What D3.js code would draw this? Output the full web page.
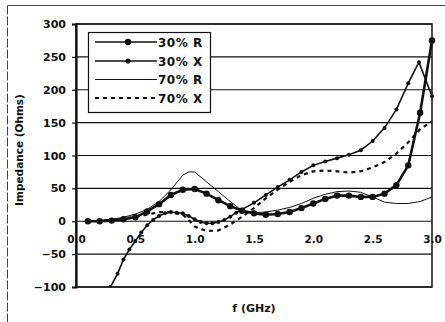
<!DOCTYPE html>
<html>
<head>
<meta charset="utf-8">
<script src="https://cdn.jsdelivr.net/npm/d3@7"></script>
<style>
  html, body { margin: 0; padding: 0; background: #fff; }
  svg { display: block; }
  text { font-family: "DejaVu Sans", sans-serif; font-weight: bold; fill: #111; }
</style>
</head>
<body>
<svg id="chart" width="445" height="322"></svg>
<script>
// Impedance vs frequency for 30% and 70% fill ratios
const freq30R = [0.1,0.2,0.3,0.4,0.5,0.6,0.7,0.8,0.9,1.0,1.1,1.2,1.3,1.4,1.5,1.6,1.7,1.8,1.9,2.0,2.1,2.2,2.3,2.4,2.5,2.6,2.7,2.8,2.9,3.0];
const res30  = [0,0,1,3,6,15,26,40,48,49,42,32,23,16,12,10,11,14,20,27,34,39,39,37,37,42,55,85,165,275];

const freq30X = [0.29,0.35,0.4,0.45,0.5,0.55,0.6,0.65,0.7,0.75,0.8,0.85,0.9,0.95,1.0,1.05,1.1,1.15,1.2,1.25,1.3,1.35,1.4,1.5,1.6,1.7,1.8,1.9,2.0,2.1,2.2,2.3,2.4,2.5,2.6,2.7,2.8,2.89,3.0];
const reac30 = [-100,-80,-58,-43,-30,-17,-6,2,8,12,14,13,12,8,3,-1,-3,-3,-1,2,7,13,18,28,40,52,63,75,85,91,96,101,108,122,142,170,210,242,190];

const freq70R = [0.1,0.2,0.3,0.4,0.5,0.6,0.7,0.8,0.9,0.95,1.0,1.1,1.2,1.3,1.4,1.5,1.6,1.7,1.8,1.9,2.0,2.1,2.2,2.3,2.4,2.5,2.6,2.7,2.8,2.9,3.0];
const res70  = [0,1,3,6,11,18,30,48,70,75,75,60,45,30,16,13,14,17,21,27,35,41,45,46,44,37,29,27,27,30,37];

const freq70X = [0.1,0.2,0.3,0.4,0.5,0.6,0.7,0.8,0.9,0.95,1.0,1.1,1.2,1.3,1.4,1.5,1.6,1.7,1.8,1.9,2.0,2.1,2.2,2.3,2.4,2.5,2.6,2.7,2.8,2.9,3.0];
const reac70 = [0,1,2,4,7,10,14,14,10,2,-8,-15,-14,-5,7,20,35,48,60,70,76,77,76,74,76,82,90,103,120,140,152];

const yTicks = [300,250,200,150,100,50,0,-50,-100];
const xTicks = [0.0,0.5,1.0,1.5,2.0,2.5,3.0];
const seriesNames = ["30% R","30% X","70% R","70% X"];

const svg = d3.select("#chart");
const x = d3.scaleLinear().domain([0, 3]).range([76, 432]);
const y = d3.scaleLinear().domain([-100, 300]).range([287, 24]);

// outer frame (top and left edges)
svg.append("line").attr("x1", 7.5).attr("x2", 445).attr("y1", 5.5).attr("y2", 5.5)
  .attr("stroke", "#444").attr("stroke-width", 1);
svg.append("line").attr("x1", 7.5).attr("x2", 7.5).attr("y1", 5.5).attr("y2", 322)
  .attr("stroke", "#444").attr("stroke-width", 1).attr("stroke-dasharray", "9,2");

// horizontal gridlines
svg.append("g").selectAll("line").data(yTicks).join("line")
  .attr("x1", x(0)).attr("x2", x(3))
  .attr("y1", d => y(d)).attr("y2", d => y(d))
  .attr("stroke", "#111").attr("stroke-width", 1.2);

// plot border
svg.append("rect").attr("x", x(0)).attr("y", y(300))
  .attr("width", x(3) - x(0)).attr("height", y(-100) - y(300))
  .attr("fill", "none").attr("stroke", "#111").attr("stroke-width", 1.5);

// y axis
const yAxis = d3.axisLeft(y).tickValues(yTicks).tickSize(4).tickPadding(6).tickFormat(d3.format("d"));
const gy = svg.append("g").attr("transform", `translate(${x(0)},0)`).call(yAxis);
gy.select(".domain").attr("stroke", "#111").attr("stroke-width", 2.2);
gy.selectAll(".tick line").attr("stroke", "#111").attr("stroke-width", 1.2);
gy.selectAll(".tick text").style("font-size", "11px").style("font-family", "DejaVu Sans")
  .style("font-weight", "bold").attr("fill", "#111");

// x axis labels sit below the zero line
const xAxis = d3.axisBottom(x).tickValues(xTicks).tickSize(0).tickPadding(14).tickFormat(d3.format(".1f"));
const gx = svg.append("g").attr("transform", `translate(0,${y(0)})`).call(xAxis);
gx.select(".domain").remove();
gx.selectAll(".tick text").style("font-size", "10.5px").style("font-family", "DejaVu Sans")
  .style("font-weight", "bold").attr("fill", "#111");

// axis titles
svg.append("text").attr("x", 254).attr("y", 312).attr("text-anchor", "middle")
  .style("font-size", "11px").text("f (GHz)");
svg.append("text").attr("transform", "translate(23,150) rotate(-90)").attr("text-anchor", "middle")
  .style("font-size", "10.5px").text("Impedance (Ohms)");

// series
const lineGen = d3.line().x(d => x(d[0])).y(d => y(d[1]));
const plot = svg.append("g");
plot.append("clipPath").attr("id", "clip").append("rect")
  .attr("x", x(0)).attr("y", y(300) - 6).attr("width", x(3) - x(0) + 6).attr("height", y(-100) - y(300) + 6);
const pg = plot.append("g").attr("clip-path", "url(#clip)");

const pts30R = d3.zip(freq30R, res30);
const pts30X = d3.zip(freq30X, reac30);
const pts70R = d3.zip(freq70R, res70);
const pts70X = d3.zip(freq70X, reac70);

pg.append("path").attr("d", lineGen(pts70R)).attr("fill", "none").attr("stroke", "#111").attr("stroke-width", 1);
pg.append("path").attr("d", lineGen(pts70X)).attr("fill", "none").attr("stroke", "#111")
  .attr("stroke-width", 2.2).attr("stroke-dasharray", "4,4");
pg.append("path").attr("d", lineGen(pts30X)).attr("fill", "none").attr("stroke", "#111").attr("stroke-width", 1.6);
pg.append("g").selectAll("circle").data(pts30X).join("circle")
  .attr("cx", d => x(d[0])).attr("cy", d => y(d[1])).attr("r", 2).attr("fill", "#111");
pg.append("path").attr("d", lineGen(pts30R)).attr("fill", "none").attr("stroke", "#111").attr("stroke-width", 2.6);
pg.append("g").selectAll("circle").data(pts30R).join("circle")
  .attr("cx", d => x(d[0])).attr("cy", d => y(d[1])).attr("r", 3.2).attr("fill", "#111");

// legend
const lg = svg.append("g");
lg.append("rect").attr("x", 88.5).attr("y", 32.5).attr("width", 122).attr("height", 80)
  .attr("fill", "#fff").attr("stroke", "#111").attr("stroke-width", 1.2);
const rowY = [42, 61, 79.5, 98];
const legendStyle = [
  { w: 1.6, dash: null, r: 3.2 },
  { w: 1.6, dash: null, r: 2.6 },
  { w: 1, dash: null, r: 0 },
  { w: 2.2, dash: "4,4", r: 0 }
];
seriesNames.forEach((name, i) => {
  const s = legendStyle[i];
  const ln = lg.append("line").attr("x1", 95).attr("x2", 157).attr("y1", rowY[i]).attr("y2", rowY[i])
    .attr("stroke", "#111").attr("stroke-width", s.w);
  if (s.dash) ln.attr("stroke-dasharray", s.dash);
  if (s.r) lg.append("circle").attr("cx", 128).attr("cy", rowY[i]).attr("r", s.r).attr("fill", "#111");
  lg.append("text").attr("x", 158).attr("y", rowY[i] + 4.5).style("font-size", "12px")
    .style("letter-spacing", "0.5px").text(name);
});
</script>
</body>
</html>
